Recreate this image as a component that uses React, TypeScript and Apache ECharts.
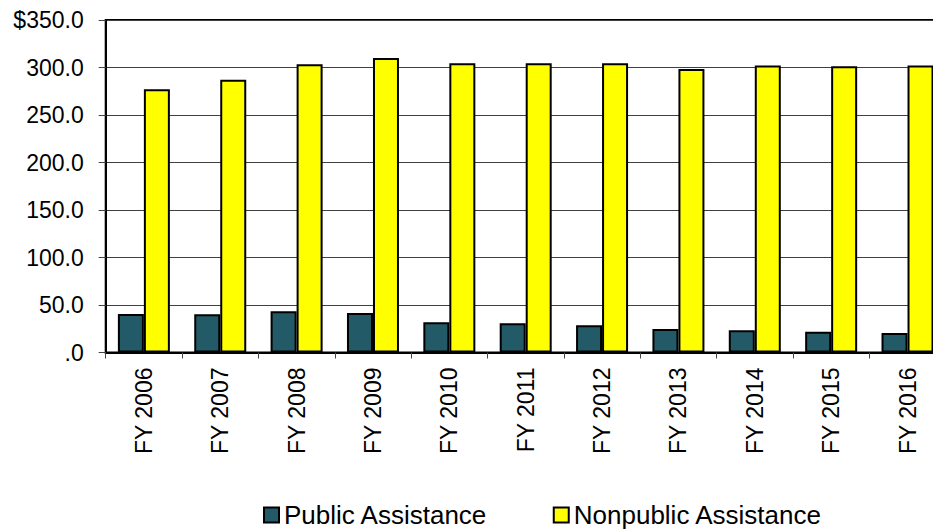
import React, { useEffect, useRef } from "react";
import * as echarts from "echarts";

const categories = ["FY 2006", "FY 2007", "FY 2008", "FY 2009", "FY 2010", "FY 2011", "FY 2012", "FY 2013", "FY 2014", "FY 2015", "FY 2016"];
const publicAssistance = [40.5, 40.2, 43.4, 41.6, 31.8, 30.7, 28.6, 24.7, 23.3, 21.9, 20.5];
const nonpublicAssistance = [277, 287, 303.4, 310, 304.4, 304.4, 304.4, 298.5, 302, 301.2, 302.2];
const seriesNames = ["Public Assistance", "Nonpublic Assistance"];

const FONT = "'Liberation Sans', Arial, sans-serif";

export default function App() {
  const ref = useRef<HTMLDivElement>(null);
  useEffect(() => {
    const chart = echarts.init(ref.current!, null, { renderer: "svg" });
    chart.setOption({
      animation: false,
      textStyle: { fontFamily: FONT },
      grid: {
        left: 105.7,
        right: 14.3,
        top: 20,
        bottom: 176.5,
        show: true,
        borderColor: "#000",
        borderWidth: 2,
        containLabel: false,
      },
      legend: {
        left: 263,
        top: 502,
        padding: 0,
        icon: "rect",
        itemWidth: 15,
        itemHeight: 15,
        itemGap: 65,
        textStyle: { fontSize: 26, lineHeight: 26, color: "#000", fontFamily: FONT },
        data: seriesNames,
      },
      xAxis: {
        type: "category",
        data: categories,
        axisLine: { show: true, lineStyle: { color: "#000", width: 2 } },
        axisTick: { show: true, length: 6, lineStyle: { color: "#444", width: 1 } },
        axisLabel: { rotate: 90, fontSize: 23, color: "#000", margin: 15, fontFamily: FONT },
        splitLine: { show: false },
      },
      yAxis: {
        type: "value",
        min: 0,
        max: 350,
        interval: 50,
        axisLine: { show: true, lineStyle: { color: "#000", width: 2 } },
        axisTick: { show: true, length: 7, lineStyle: { color: "#444", width: 1 } },
        axisLabel: {
          fontSize: 23,
          color: "#000",
          margin: 22,
          fontFamily: FONT,
          formatter: (v: number) => {
            if (v === 0) return ".0";
            if (v === 350) return "$" + v.toFixed(1);
            return v.toFixed(1);
          },
        },
        splitLine: { show: true, lineStyle: { color: "#404040", width: 1 } },
      },
      series: [
        {
          name: seriesNames[0],
          type: "bar",
          data: publicAssistance,
          barWidth: 26,
          barGap: "0%",
          itemStyle: { color: "#235A67", borderColor: "#000", borderWidth: 2 },
        },
        {
          name: seriesNames[1],
          type: "bar",
          data: nonpublicAssistance,
          barWidth: 26,
          barGap: "0%",
          itemStyle: { color: "#FFFF00", borderColor: "#000", borderWidth: 2 },
        },
      ],
    });
    return () => chart.dispose();
  }, []);
  return (
    <div style={{ position: "fixed", left: 0, top: 0, width: 933, height: 529, overflow: "hidden", background: "#fff" }}>
      <div ref={ref} style={{ width: 960, height: 529 }} />
    </div>
  );
}
